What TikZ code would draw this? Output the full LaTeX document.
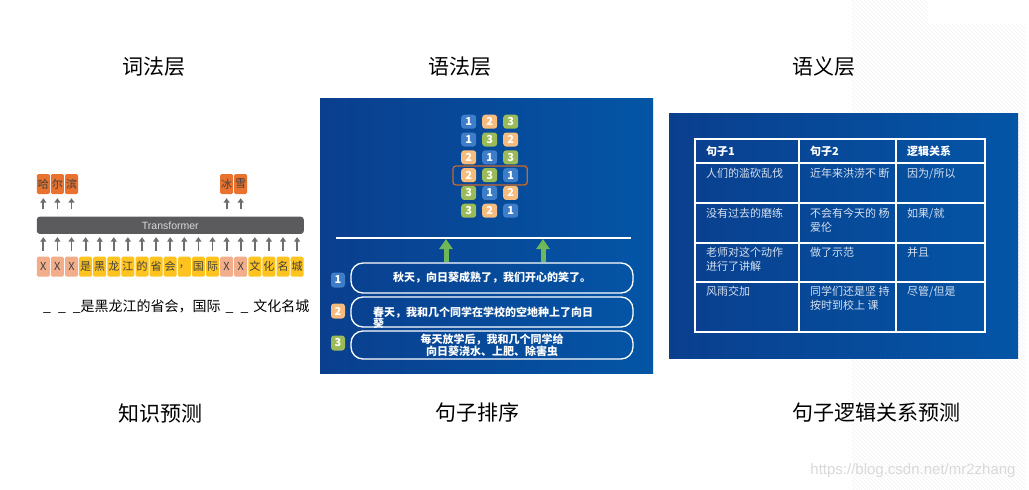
\documentclass[tikz,border=0pt]{standalone}
\usepackage{fontspec}
\setmainfont{Noto Sans CJK SC}
\newfontfamily\latf{Liberation Sans}
\usetikzlibrary{arrows.meta}
\definecolor{tokX}{HTML}{F2AE8A}
\definecolor{tokY}{HTML}{FFC31F}
\definecolor{tokO}{HTML}{E8722E}
\definecolor{barG}{HTML}{5B5B5D}
\definecolor{arrG}{HTML}{6E6E6E}
\definecolor{bgA}{HTML}{0A3F8E}
\definecolor{bgB}{HTML}{0455A6}
\definecolor{n1}{HTML}{3E7DC8}
\definecolor{n2}{HTML}{F6BC7E}
\definecolor{n3}{HTML}{9ABB58}
\definecolor{hiO}{HTML}{C9682C}
\definecolor{grA}{HTML}{6FB85A}
\definecolor{cellT}{HTML}{D6E1EF}
\definecolor{wmc}{HTML}{D9D9D9}
\definecolor{stripe}{HTML}{F3F3F3}
\begin{document}
\begin{tikzpicture}[x=1pt,y=-1pt,
  title/.style={font=\fontsize{21}{24}\selectfont, text=black, inner sep=0},
  tok/.style={minimum width=13pt, minimum height=20pt, inner sep=0, rounded corners=1.5pt, font=\fontsize{11}{12}\selectfont, text=black!75},
  bar/.style={fill=barG, rounded corners=3pt, minimum width=267pt, minimum height=17.3pt, inner sep=0, text=black!15, font=\latf\fontsize{10.5}{11}\selectfont},
  garrow/.style={draw=arrG, line width=1.8pt, -{Triangle[width=6pt,length=4.5pt]}},
  tile/.style={minimum width=15pt, minimum height=14pt, inner sep=0, rounded corners=3pt, text=white, font=\bfseries\fontsize{11}{12}\selectfont},
  sbox/.style={draw=white, line width=1.3pt, rounded corners=12pt, minimum width=282pt, inner sep=0, text=white, font=\bfseries\fontsize{11}{12}\selectfont, align=center},
  stxt/.style={text=white, font=\bfseries\fontsize{11}{12}\selectfont, inner sep=0, align=left},
  badge/.style={minimum width=14pt, minimum height=15pt, inner sep=0, rounded corners=3pt, text=white, font=\bfseries\fontsize{11}{12}\selectfont},
  grarr/.style={draw=grA, line width=5pt, -{Triangle[width=13pt,length=10pt]}, shorten >=1pt},
  hd/.style={anchor=west, inner sep=0, text=white, font=\bfseries\fontsize{11}{12}\selectfont},
  cell/.style={anchor=north west, inner sep=0, text=cellT, align=left, font=\fontsize{11}{13.7}\selectfont},
  tline/.style={draw=white, line width=1.8pt}
]
\useasboundingbox (0,0) rectangle (1029,490);
\fill[white] (0,0) rectangle (1029,490);
% background stripes
\begin{scope}
\clip (852,0) rectangle (928,490) (928,24) rectangle (1025,490);
\foreach \i in {360,364,...,1030} \draw[stripe, line width=0.5pt] (\i,0) -- (\i+490,490);
\end{scope}

% titles
\node[title] (ti1) at (154,67) {词法层};
\node[title] (ti2) at (460,67) {语法层};
\node[title] (ti3) at (824,67) {语义层};
\node[title] (bo1) at (160,413) {知识预测};
\node[title] (bo2) at (477,413) {句子排序};
\node[title] (bo3) at (876,413) {句子逻辑关系预测};

% ---------- left panel ----------
\node[bar] (bar) at (170.3,225.3) {Transformer};
\foreach \c/\col [count=\i] in {X/tokX,X/tokX,X/tokX,是/tokY,黑/tokY,龙/tokY,江/tokY,的/tokY,省/tokY,会/tokY,，/tokY,国/tokY,际/tokY,X/tokX,X/tokX,文/tokY,化/tokY,名/tokY,城/tokY}{
  \node[tok, fill=\col] (k\i) at ({43.3+14.1*(\i-1)},266.7) {\c};
  \draw[garrow, shorten <=5.7pt, shorten >=3pt] (k\i.north) -- (k\i.north |- bar.south);
}
\foreach \c/\i in {哈/1,尔/2,滨/3,冰/14,雪/15}{
  \node[tok, fill=tokO] (h\i) at ({43.3+14.1*(\i-1)},184) {\c};
  \draw[garrow, shorten <=7pt, shorten >=4pt] (h\i.south |- bar.north) -- (h\i.south);
}
\node[anchor=west, inner sep=0, font=\fontsize{14}{16}\selectfont] (sent) at (43,307) {\_\hspace{7pt}\_\hspace{7pt}\_是黑龙江的省会，国际\hspace{5pt}\_\hspace{7pt}\_\hspace{5pt}文化名城};

% ---------- middle panel ----------
\shade[left color=bgA, right color=bgB] (320,98) rectangle (653,373);
\foreach \a/\b/\c [count=\j] in {1/2/3,1/3/2,2/1/3,2/3/1,3/1/2,3/2/1}{
  \node[tile, fill=n\a] (s\j-1) at (468.7,{121.7+17.8*(\j-1)}) {\a};
  \node[tile, fill=n\b] (s\j-2) at (489.7,{121.7+17.8*(\j-1)}) {\b};
  \node[tile, fill=n\c] (s\j-3) at (510.7,{121.7+17.8*(\j-1)}) {\c};
}
\draw[hiO, line width=1.3pt, rounded corners=3pt] (453,166) rectangle (527.3,185);
\coordinate (La) at (336,238);
\coordinate (Lb) at (631,238);
\draw[white, line width=2pt] (La) -- (Lb);
\node[sbox, minimum height=30pt] (b1) at (492,278) {秋天，向日葵成熟了，我们开心的笑了。};
\node[sbox, minimum height=30pt] (b2) at (492,312) {};
\node[stxt, anchor=west] (x2) at (373,318) {春天，我和几个同学在学校的空地种上了向日\\[-1pt]葵};
\node[sbox, minimum height=28pt] (b3) at (492,345) {每天放学后，我和几个同学给\\向日葵浇水、上肥、除害虫};
\node[badge, fill=n1] (g1) at (338,280) {1};
\node[badge, fill=n2] (g2) at (338,311) {2};
\node[badge, fill=n3] (g3) at (338,343) {3};
\draw[grarr] ([xshift=-46pt]b1.north) -- ([xshift=-46pt]b1.north |- La);
\draw[grarr] ([xshift=51pt]b1.north) -- ([xshift=51pt]b1.north |- La);

% ---------- right panel ----------
\shade[left color=bgA, right color=bgB] (669,113) rectangle (1018,358);
\draw[tline] (695,139) rectangle (985,332);
\draw[tline] (799,139) -- (799,332);
\draw[tline] (896,139) -- (896,332);
\foreach \yy in {163,203,243,282} \draw[tline] (695,\yy) -- (985,\yy);
\node[hd] (c01) at (706,151) {句子1};
\node[hd] (c02) at (810,151) {句子2};
\node[hd] (c03) at (907,151) {逻辑关系};
\node[cell] (c11) at (706,167.8) {人们的滥砍乱伐};
\node[cell] (c12) at (810,167.8) {近年来洪涝不 断};
\node[cell] (c13) at (907,167.8) {因为/所以};
\node[cell] (c21) at (706,207.8) {没有过去的磨练};
\node[cell] (c22) at (810,207.8) {不会有今天的 杨\\爱伦};
\node[cell] (c23) at (907,207.8) {如果/就};
\node[cell] (c31) at (706,247.2) {老师对这个动作\\进行了讲解};
\node[cell] (c32) at (810,247.2) {做了示范};
\node[cell] (c33) at (907,247.2) {并且};
\node[cell] (c41) at (706,286.2) {风雨交加};
\node[cell] (c42) at (810,286.2) {同学们还是坚 持\\按时到校上 课};
\node[cell] (c43) at (907,286.2) {尽管/但是};

% watermark
\node[inner sep=0, text=wmc, font=\latf\fontsize{15}{16}\selectfont] (wm) at (913,471) {https://blog.csdn.net/mr2zhang};
\end{tikzpicture}
\end{document}
